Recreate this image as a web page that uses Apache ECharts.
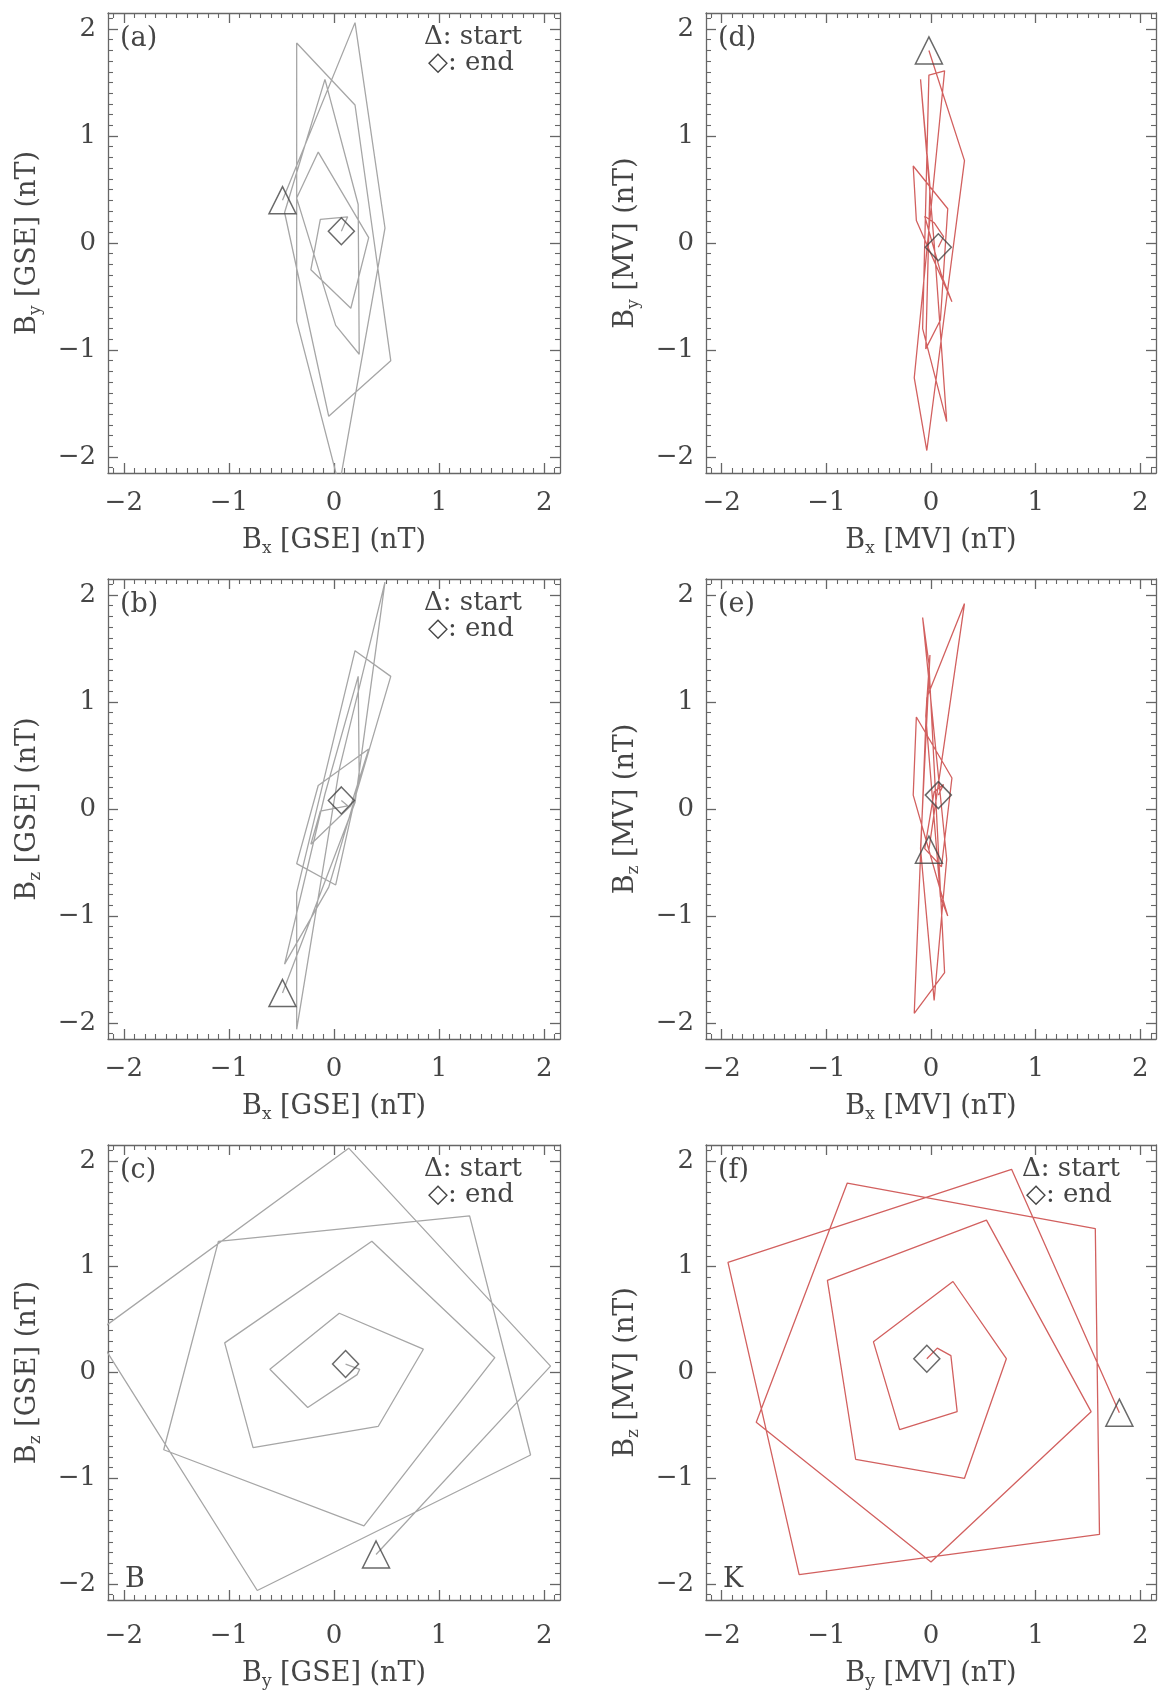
<!DOCTYPE html>
<html>
<head>
<meta charset="utf-8">
<script src="https://cdn.jsdelivr.net/npm/echarts@6/dist/echarts.min.js"></script>
<style>
html,body{margin:0;padding:0;background:#fff;}
#chart{width:1159px;height:1691px;}
</style>
</head>
<body>
<div id="chart"></div>
<script>
// ---- Data: time series of magnetic field vectors (nT) ----
// GSE frame
var gseBx = [-0.49, 0.20, 0.485, 0.05, -0.355, -0.355, 0.20, 0.54, -0.05, -0.47, -0.086, 0.23, 0.24, 0.016, -0.355, -0.15, 0.33, 0.16, -0.22, -0.13, 0.13, 0.07];
var gseBy = [0.40, 2.06, 0.14, -2.27, -0.73, 1.87, 1.29, -1.10, -1.62, 0.285, 1.53, 0.36, -1.04, -0.77, 0.42, 0.85, 0.05, -0.61, -0.25, 0.22, 0.245, 0.11];
var gseBz = [-1.72, 0.06, 2.12, 0.37, -2.06, -0.78, 1.48, 1.24, -0.73, -1.45, 0.14, 1.24, 0.28, -0.71, -0.51, 0.22, 0.56, 0.03, -0.33, -0.02, 0.03, 0.08];
// MV frame
var mvBx = [-0.02, 0.32, -0.04, -0.16, 0.13, -0.02, -0.08, 0.15, 0.03, -0.10, -0.01, -0.05, 0.09, 0.16, -0.17, -0.14, 0.20, 0.10, -0.06, 0.03, 0.12, 0.07];
var mvBy = [1.80, 0.77, -1.94, -1.26, 1.61, 1.57, -0.80, -1.67, 0.00, 1.53, 0.53, -0.99, -0.72, 0.32, 0.72, 0.21, -0.55, -0.30, 0.25, 0.19, 0.06, -0.04];
var mvBz = [-0.38, 1.92, 1.04, -1.91, -1.53, 1.36, 1.79, -0.47, -1.79, -0.37, 1.44, 0.87, -0.82, -1.00, 0.13, 0.86, 0.29, -0.54, -0.37, 0.16, 0.23, 0.13];
// Axis tick labels
var tickValues = [-2, -1, 0, 1, 2];
var axisRange = [-2.15, 2.15];
var panelLetters = ['(a)', '(b)', '(c)', '(d)', '(e)', '(f)'];
</script>
<script>
var chart = echarts.init(document.getElementById('chart'), null, {renderer: 'canvas'});
var FONT = '"DejaVu Serif", "Liberation Serif", serif';
var TXT = '#454545';
var FRAME = '#666';
var GRAY = '#a6a6a6';
var RED = '#d2605f';

function pairs(xs, ys) {
  var out = [];
  for (var i = 0; i < xs.length; i++) out.push([xs[i], ys[i]]);
  return out;
}
var minorVals = [];
for (var k = -21; k <= 21; k++) { if (k % 10 !== 0) minorVals.push(k / 10); }

function fmt(v) { return v < 0 ? '\u2212' + Math.abs(v) : String(v); }

var richName = {
  n: {fontFamily: FONT, fontSize: 27, color: TXT, lineHeight: 32, verticalAlign: 'middle'},
  s: {fontFamily: FONT, fontSize: 17, color: TXT, lineHeight: 17, verticalAlign: 'bottom'}
};
function axName(sub, frame) { return '{n|B}{s|' + sub + '}{n| [' + frame + '] (nT)}'; }

var panels = [
  {x: gseBx, y: gseBy, xs: 'x', ys: 'y', fr: 'GSE', col: GRAY, legend: true, tag: ''},
  {x: gseBx, y: gseBz, xs: 'x', ys: 'z', fr: 'GSE', col: GRAY, legend: true, tag: ''},
  {x: gseBy, y: gseBz, xs: 'y', ys: 'z', fr: 'GSE', col: GRAY, legend: true, tag: 'B'},
  {x: mvBx, y: mvBy, xs: 'x', ys: 'y', fr: 'MV', col: RED, legend: false, tag: ''},
  {x: mvBx, y: mvBz, xs: 'x', ys: 'z', fr: 'MV', col: RED, legend: false, tag: ''},
  {x: mvBy, y: mvBz, xs: 'y', ys: 'z', fr: 'MV', col: RED, legend: true, tag: 'K'}
];
var lefts = [108, 706], widths = [452, 450], tops = [13, 579, 1145], H = 460;

var grids = [], xAxes = [], yAxes = [], series = [], graphics = [];
panels.forEach(function (p, g) {
  var col = g < 3 ? 0 : 1, row = g % 3;
  var L = lefts[col], T = tops[row], W = widths[col];
  var extra = row === 2 ? 6 : 0;
  grids.push({left: L, top: T, width: W, height: H, containLabel: false});
  var base = {gridIndex: g, type: 'value', min: axisRange[0], max: axisRange[1], splitLine: {show: false}};
  var xi = xAxes.length;
  xAxes.push(Object.assign({}, base, {
    position: 'bottom',
    axisLine: {show: true, onZero: false, lineStyle: {color: FRAME, width: 1.3}},
    axisTick: {show: true, inside: true, length: 10, customValues: tickValues, lineStyle: {color: FRAME, width: 1.3}},
    axisLabel: {show: true, customValues: tickValues, formatter: fmt, margin: 17 + extra, fontFamily: FONT, fontSize: 26, color: TXT},
    name: axName(p.xs, p.fr), nameLocation: 'middle', nameGap: 52 + extra,
    nameTextStyle: {rich: richName}
  }));
  xAxes.push(Object.assign({}, base, {
    position: 'bottom', axisLine: {show: false, onZero: false},
    axisTick: {show: true, inside: true, length: 5, customValues: minorVals, lineStyle: {color: FRAME, width: 1.1}},
    axisLabel: {show: false}
  }));
  xAxes.push(Object.assign({}, base, {
    position: 'top',
    axisLine: {show: true, onZero: false, lineStyle: {color: FRAME, width: 1.3}},
    axisTick: {show: true, inside: true, length: 10, customValues: tickValues, lineStyle: {color: FRAME, width: 1.3}},
    axisLabel: {show: false}
  }));
  xAxes.push(Object.assign({}, base, {
    position: 'top', axisLine: {show: false, onZero: false},
    axisTick: {show: true, inside: true, length: 5, customValues: minorVals, lineStyle: {color: FRAME, width: 1.1}},
    axisLabel: {show: false}
  }));
  var yi = yAxes.length;
  yAxes.push(Object.assign({}, base, {
    position: 'left',
    axisLine: {show: true, onZero: false, lineStyle: {color: FRAME, width: 1.3}},
    axisTick: {show: true, inside: true, length: 10, customValues: tickValues, lineStyle: {color: FRAME, width: 1.3}},
    axisLabel: {show: true, customValues: tickValues, formatter: fmt, margin: 12, fontFamily: FONT, fontSize: 26, color: TXT},
    name: axName(p.ys, p.fr), nameLocation: 'middle', nameGap: 64, nameRotate: 90,
    nameTextStyle: {rich: richName}
  }));
  yAxes.push(Object.assign({}, base, {
    position: 'left', axisLine: {show: false, onZero: false},
    axisTick: {show: true, inside: true, length: 5, customValues: minorVals, lineStyle: {color: FRAME, width: 1.1}},
    axisLabel: {show: false}
  }));
  yAxes.push(Object.assign({}, base, {
    position: 'right',
    axisLine: {show: true, onZero: false, lineStyle: {color: FRAME, width: 1.3}},
    axisTick: {show: true, inside: true, length: 10, customValues: tickValues, lineStyle: {color: FRAME, width: 1.3}},
    axisLabel: {show: false}
  }));
  yAxes.push(Object.assign({}, base, {
    position: 'right', axisLine: {show: false, onZero: false},
    axisTick: {show: true, inside: true, length: 5, customValues: minorVals, lineStyle: {color: FRAME, width: 1.1}},
    axisLabel: {show: false}
  }));

  var pts = pairs(p.x, p.y);
  series.push({
    type: 'line', xAxisIndex: xi, yAxisIndex: yi, data: pts, showSymbol: false, symbol: 'none',
    clip: true, lineStyle: {color: p.col, width: 1.3}, animation: false, z: 2
  });
  series.push({
    type: 'scatter', xAxisIndex: xi, yAxisIndex: yi, data: [pts[0]], symbol: 'triangle', symbolSize: 27,
    itemStyle: {color: 'rgba(0,0,0,0)', borderColor: '#444', borderWidth: 1.5}, animation: false, z: 3
  });
  series.push({
    type: 'scatter', xAxisIndex: xi, yAxisIndex: yi, data: [pts[pts.length - 1]], symbol: 'diamond', symbolSize: [26, 27],
    itemStyle: {color: 'rgba(0,0,0,0)', borderColor: '#444', borderWidth: 1.5}, animation: false, z: 3
  });

  graphics.push({type: 'text', left: L + 12, top: T + 12, style: {text: panelLetters[g], font: '27px ' + FONT, fill: TXT}});
  if (p.legend) {
    graphics.push({type: 'text', left: L + 316, top: T + 11, style: {text: '\u0394: start', font: '26px ' + FONT, fill: TXT}});
    graphics.push({type: 'text', left: L + 320, top: T + 37, style: {text: '\u25C7: end', font: '26px ' + FONT, fill: TXT}});
  }
  if (p.tag) {
    graphics.push({type: 'text', left: L + 17, top: T + 421, style: {text: p.tag, font: '27px ' + FONT, fill: TXT}});
  }
});

chart.setOption({
  backgroundColor: '#fff',
  animation: false,
  grid: grids,
  xAxis: xAxes,
  yAxis: yAxes,
  series: series,
  graphic: graphics
});
</script>
</body>
</html>
